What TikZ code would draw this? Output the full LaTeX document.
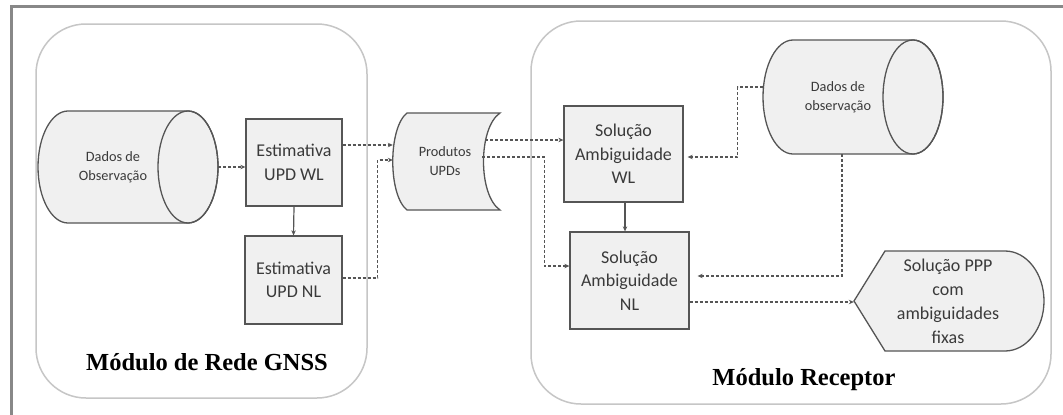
\documentclass[tikz,border=0pt]{standalone}
\usepackage{fontspec}
\setmainfont{Carlito}
\newfontfamily\labelfont{Liberation Serif}
\usetikzlibrary{arrows.meta,calc}
\definecolor{edgec}{HTML}{555555}
\definecolor{boxfill}{HTML}{F0F0F0}
\definecolor{modedge}{HTML}{C6C6C6}
\definecolor{framec}{HTML}{888888}
\definecolor{txt}{HTML}{3A3A3A}
\begin{document}
\begin{tikzpicture}[x=1pt,y=-1pt,
  box/.style={draw=edgec, fill=boxfill, line width=1.3pt, inner sep=0pt, align=center, text=txt, font=\fontsize{18}{23.5}\selectfont},
  holder/.style={inner sep=0pt},
  smalltxt/.style={inner sep=0pt, align=center, text=txt, font=\fontsize{14.3}{19}\selectfont},
  bigtxt/.style={inner sep=0pt, align=center, text=txt, font=\fontsize{18}{24}\selectfont},
  shapeline/.style={draw=edgec, fill=boxfill, line width=1.3pt},
  flow/.style={draw=edgec, line width=1.2pt, dash pattern=on 3pt off 2pt, -{Stealth[length=5pt,width=4.5pt]}},
  solidflow/.style={draw=edgec, line width=1.2pt, -{Stealth[length=5pt,width=4.5pt]}},
  module/.style={draw=modedge, line width=1.5pt, rounded corners=50pt, inner sep=0pt},
  modlabel/.style={inner sep=0pt, font=\labelfont\bfseries\fontsize{24.5}{28}\selectfont, text=black}
]
\fill[white] (0,0) rectangle (1063,415);
\useasboundingbox (0,0) rectangle (1063,415);
\draw[framec, line width=3pt] (1063,6) -- (11.5,6) -- (11.5,415);

% modules
\node[module, minimum width=331pt, minimum height=374pt] (modL) at (201.5,211) {};
\node[module, minimum width=520pt, minimum height=383pt] (modR) at (791,212.5) {};
\node[modlabel] (labL) at (207,362) {Módulo de Rede GNSS};
\node[modlabel] (labR) at (804,380) {Módulo Receptor};

% left cylinder
\node[holder, minimum width=180pt, minimum height=112pt] (obs1) at (128,167) {};
\path[shapeline] (188,111) -- (68,111) arc[start angle=90, end angle=270, x radius=30pt, y radius=56pt]
  -- (188,223) arc[start angle=-90, end angle=90, x radius=30pt, y radius=56pt] -- cycle;
\draw[edgec, line width=1.3pt] (188,167) ellipse[x radius=30pt, y radius=56pt];
\node[smalltxt] (obs1t) at (113,167) {Dados de\\Observação};

% right cylinder
\node[holder, minimum width=180pt, minimum height=114pt] (obs2) at (853,97) {};
\path[shapeline] (913,40) -- (793,40) arc[start angle=90, end angle=270, x radius=30pt, y radius=57pt]
  -- (913,154) arc[start angle=-90, end angle=90, x radius=30pt, y radius=57pt] -- cycle;
\draw[edgec, line width=1.3pt] (913,97) ellipse[x radius=30pt, y radius=57pt];
\node[smalltxt] (obs2t) at (838,97.5) {Dados de\\observação};

% produtos UPDs
\node[holder, minimum width=107pt, minimum height=97pt] (prod) at (446.5,161.5) {};
\path[shapeline] (407,113) -- (500,113) .. controls (478,128) and (478,195) .. (500,210)
  -- (407,210) .. controls (388,195) and (388,128) .. (407,113) -- cycle;
\node[smalltxt] (prodt) at (445,161) {Produtos\\UPDs};

% boxes
\node[box, minimum width=96pt, minimum height=87pt] (wl) at (294,162.5) {Estimativa\\UPD WL};
\node[box, minimum width=97pt, minimum height=88pt] (nl) at (293.5,280) {Estimativa\\UPD NL};
\node[box, minimum width=119pt, minimum height=96pt] (wls) at (623.5,154) {Solução\\Ambiguidade\\WL};
\node[box, minimum width=119pt, minimum height=97pt] (nls) at (629.5,280.5) {Solução\\Ambiguidade\\NL};

% PPP display shape
\node[holder, minimum width=190pt, minimum height=100pt] (ppp) at (949,301) {};
\path[shapeline] (854,301) -- (885,251) -- (1005,251) arc[start angle=90, end angle=-90, x radius=39pt, y radius=50pt]
  -- (885,351) -- cycle;
\node[bigtxt] (pppt) at (948,301) {Solução PPP\\com\\ambiguidades\\fixas};

% connectors
\draw[flow] (obs1.east) -- (obs1.east -| wl.west);
\draw[flow] ([yshift=17.5pt]wl.east) -- ([yshift=17.5pt]wl.east -| prod.west);
\draw[flow] ([yshift=2pt]nl.east) -- ++(35,0) |- ([yshift=1.5pt]prod.west);
\draw[solidflow] (wl.south) -- (nl.north);
\draw[flow] ($([yshift=14pt]wls.west -| prod.east)+(-15,0)$) -- ([yshift=14pt]wls.west);
\draw[flow] ($(prod.east)+(-18,-4.5)$) -- ++(62,0) |- ([yshift=14.5pt]nls.west);
\draw[solidflow] ([xshift=1.5pt]wls.south) -- ([xshift=1.5pt]wls.south |- nls.north);
\draw[flow, shorten >=4pt] ([yshift=10pt]obs2.west) -- ++(-25,0) |- ([yshift=-3pt]wls.east);
\draw[flow, shorten >=8pt] ([xshift=-11pt]obs2.south) |- ([yshift=4.5pt]nls.east);
\draw[flow] ([yshift=-21.5pt]nls.east) -- ([yshift=-21.5pt]nls.east -| ppp.west);
\end{tikzpicture}
\end{document}
